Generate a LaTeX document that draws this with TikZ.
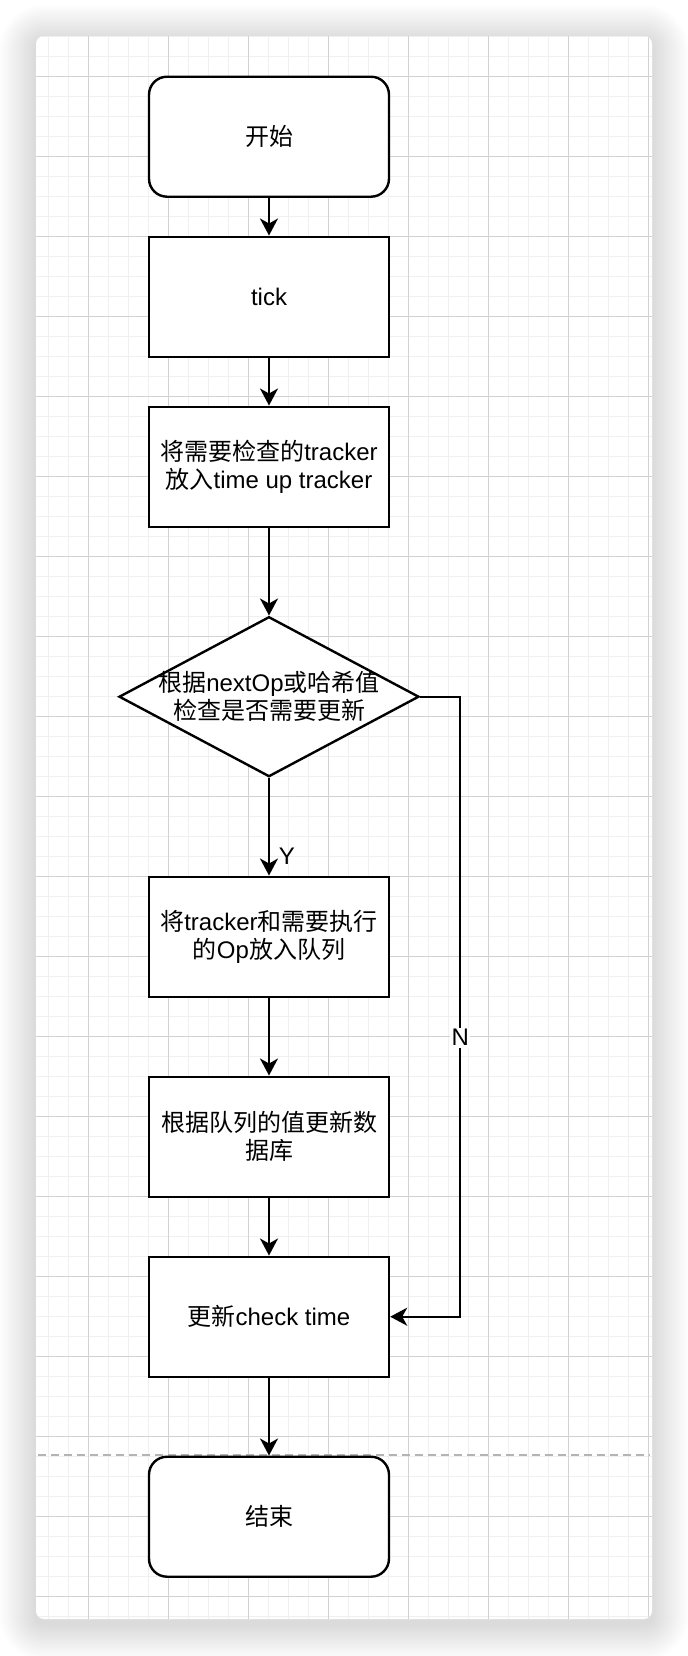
\documentclass[tikz,border=0pt]{standalone}
\usepackage{fontspec}
\setmainfont{Liberation Sans}
\newfontfamily\zhfont{Noto Sans CJK SC}
\newcommand{\zh}[1]{{\zhfont #1}}
\usetikzlibrary{shapes.geometric,arrows.meta}
\definecolor{gridminor}{HTML}{F0F0F0}
\definecolor{gridmajor}{HTML}{D2D2D2}
\definecolor{pagebreak}{HTML}{B4B4B4}

\tikzset{
  flowbox/.style={draw, line width=1.2pt, fill=white, minimum width=120pt, minimum height=60pt,
    inner sep=0pt, align=center, font=\fontsize{12}{14}\selectfont},
  termbox/.style={flowbox, rounded corners=9pt},
  decide/.style={diamond, draw, line width=1.2pt, fill=white, minimum width=150pt, minimum height=80pt, inner sep=0pt},
  flow/.style={-{Stealth[length=8.5pt,width=9pt,inset=2.5pt]}, line width=1.2pt},
  minorline/.style={gridminor, line width=0.6pt},
  majorline/.style={gridmajor, line width=0.6pt}
}

\begin{document}
\begin{tikzpicture}[x=0.5pt,y=-0.5pt]
 \useasboundingbox (0,0) rectangle (688,1656);

 % panel with shadow and grid
 \foreach \s in {2,4,...,36}{
   \pgfmathsetmacro\rr{\s*0.5+4}
   \fill[black, opacity=0.009, rounded corners=\rr pt] (36-\s,41-\s) rectangle (652+\s,1624+\s);
 }
 \fill[white, rounded corners=4pt] (36,36) rectangle (652,1619);
 \begin{scope}
  \clip[rounded corners=4pt] (36,36) rectangle (652,1619);
  \foreach \n in {2,...,32} \draw[minorline] (8.7+20*\n,36) -- (8.7+20*\n,1619);
  \foreach \n in {0,...,79} \draw[minorline] (36,36.7+20*\n) -- (652,36.7+20*\n);
  \foreach \n in {4,8,...,32} \draw[majorline] (8.7+20*\n,36) -- (8.7+20*\n,1619);
  \foreach \n in {2,6,...,78} \draw[majorline] (36,36.7+20*\n) -- (652,36.7+20*\n);
 \end{scope}
 \draw[pagebreak, line width=0.7pt, dash pattern=on 4pt off 2.5pt] (38,1455) -- (650,1455);

 \node[termbox] (start) at (269,136.7) {\zh{开始}};
 \node[flowbox] (tick) at (269,296.7) {tick};
 \node[flowbox] (collect) at (269,466.7) {\zh{将需要检查的}tracker\\\zh{放入}time up tracker};
 \node[decide] (check) at (269,696.7) {};
 \node[align=center, inner sep=0pt, font=\fontsize{12}{14}\selectfont] (checktext) at (check)
   {\zh{根据}nextOp\zh{或哈希值}\\\zh{检查是否需要更新}};
 \node[flowbox] (enqueue) at (269,936.7) {\zh{将}tracker\zh{和需要执行}\\\zh{的}Op\zh{放入队列}};
 \node[flowbox] (update) at (269,1136.7) {\zh{根据队列的值更新数}\\\zh{据库}};
 \node[flowbox] (stamp) at (269,1316.7) {\zh{更新}check time};
 \node[termbox] (finish) at (269,1516.7) {\zh{结束}};

 \coordinate (bend) at ([xshift=20pt]check.east);

 \draw[flow] (start) -- (tick);
 \draw[flow] (tick) -- (collect);
 \draw[flow] (collect) -- (check);
 \draw[flow] (check) -- node[pos=0.8, right, xshift=1pt, font=\fontsize{12}{14}\selectfont] (yes) {Y} (enqueue);
 \draw[flow] (enqueue) -- (update);
 \draw[flow] (update) -- (stamp);
 \draw[flow] (stamp) -- (finish);
 \draw[flow] (check.east) -- (bend) |- node[pos=0.275, fill=white, inner sep=0.8pt, font=\fontsize{12}{14}\selectfont] (no) {N} (stamp.east);

\end{tikzpicture}
\end{document}
